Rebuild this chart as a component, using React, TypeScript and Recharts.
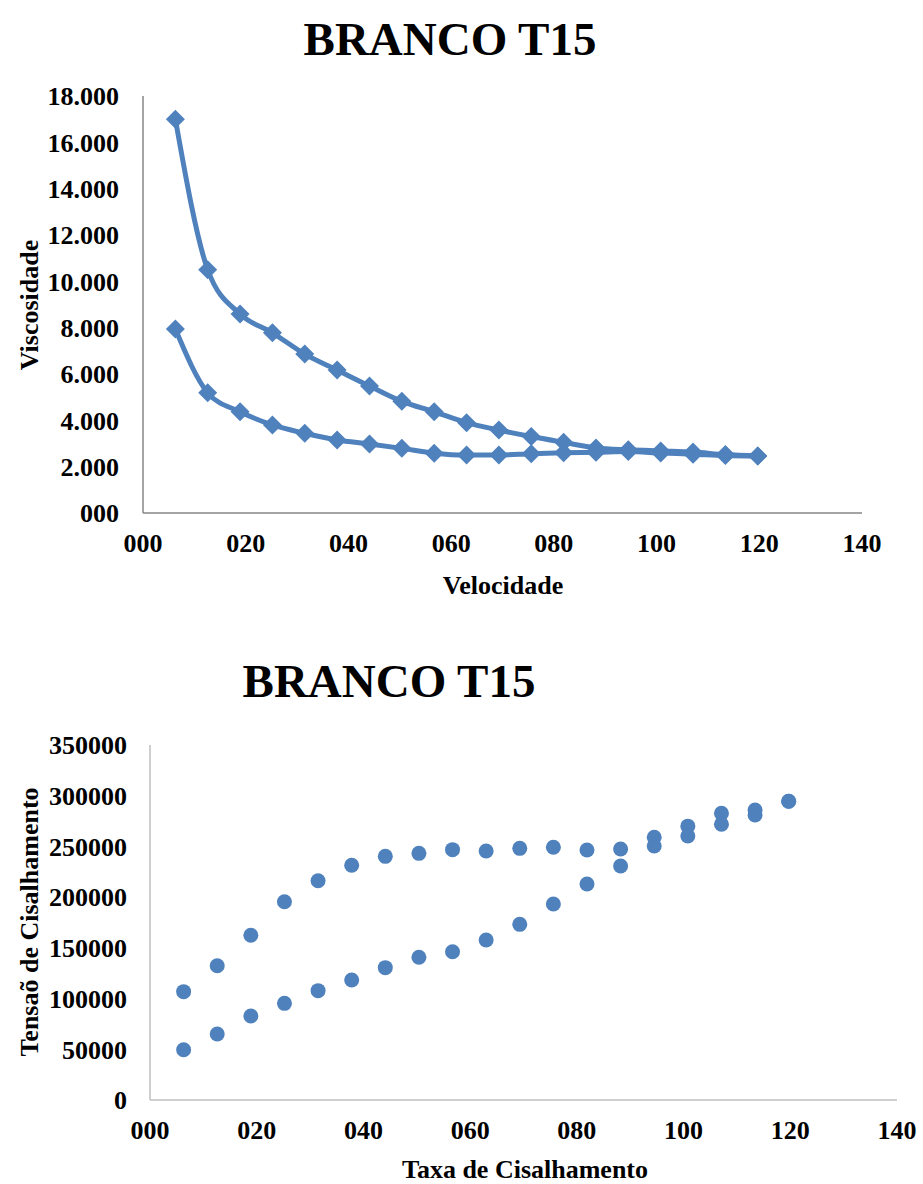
import { LineChart, Line, ScatterChart, Scatter, XAxis, YAxis, Label } from 'recharts';

// shear rate (s-1), shared by both charts
const shearRate = [6.3, 12.6, 18.9, 25.2, 31.5, 37.8, 44.1, 50.4, 56.7, 63.0, 69.3, 75.6, 81.9, 88.2, 94.5, 100.8, 107.1, 113.4, 119.7];

// viscosity, upper and lower branch of the hysteresis loop
const viscosityUpper = [17000, 10500, 8590, 7780, 6860, 6170, 5480, 4820, 4370, 3900, 3580, 3300, 3050, 2810, 2730, 2680, 2630, 2520, 2460];
const viscosityLower = [7940, 5190, 4370, 3800, 3440, 3150, 2980, 2790, 2580, 2500, 2500, 2560, 2600, 2620, 2650, 2590, 2540, 2480, 2460];

// shear stress, upper and lower branch
const stressUpper = [106800, 132400, 162400, 195500, 216200, 231400, 240200, 243200, 246800, 245500, 248100, 249200, 246500, 247500, 259000, 270000, 282600, 285900, 294500];
const stressLower = [49600, 65100, 82800, 95300, 107800, 118300, 130500, 140700, 146200, 157700, 173200, 193200, 213000, 230700, 250400, 260300, 271800, 281000, 294500];

const xTicks = [0, 20, 40, 60, 80, 100, 120, 140];
const viscTicks = [0, 2000, 4000, 6000, 8000, 10000, 12000, 14000, 16000, 18000];
const stressTicks = [0, 50000, 100000, 150000, 200000, 250000, 300000, 350000];

const BLUE = '#4F81BD';
const FONT = '"Liberation Serif", "Times New Roman", serif';

const tickStyle = { fill: '#000', fontSize: 26, fontWeight: 'bold', fontFamily: FONT };

const pad3 = (v: number) => String(Math.round(v)).padStart(3, '0');
const dotted = (v: number) => pad3(v).replace(/\B(?=(\d{3})+(?!\d))/g, '.');

const toPoints = (ys: number[]) => shearRate.map((x, i) => ({ x, y: ys[i] }));

const Diamond = (props: any) => {
  const { cx, cy, index } = props;
  if (cx == null || cy == null) return null;
  const r = 9.5;
  return (
    <path
      key={`d-${index}`}
      d={`M${cx},${cy - r}L${cx + r},${cy}L${cx},${cy + r}L${cx - r},${cy}Z`}
      fill={BLUE}
    />
  );
};

const Dot = (props: any) => <circle cx={props.cx} cy={props.cy} r={7.5} fill={BLUE} />;

const axisTitle = (text: string, x: number, y: number, rotate = false) => () => (
  <text
    x={x}
    y={y}
    textAnchor="middle"
    transform={rotate ? `rotate(-90, ${x}, ${y})` : undefined}
    fill="#000"
    fontSize={26}
    fontWeight="bold"
    fontFamily={FONT}
  >
    {text}
  </text>
);

const chartTitle = (text: string, cx: number, baseline: number) => (
  <div
    style={{
      position: 'absolute',
      left: cx - 300,
      top: baseline - 39,
      width: 600,
      textAlign: 'center',
      fontFamily: FONT,
      fontWeight: 'bold',
      fontSize: 47,
      lineHeight: '47px',
      color: '#000',
      whiteSpace: 'nowrap',
    }}
  >
    {text}
  </div>
);

export default function App() {
  return (
    <div style={{ position: 'absolute', left: 0, top: 0, width: 923, height: 1184, background: '#fff' }}>
      {chartTitle('BRANCO T15', 450, 55)}
      <div style={{ position: 'absolute', left: 0, top: 0 }}>
        <LineChart width={923} height={600} margin={{ top: 96, right: 61, bottom: 7, left: 8 }}>
          <XAxis
            type="number"
            dataKey="x"
            domain={[0, 140]}
            ticks={xTicks}
            tickFormatter={pad3}
            tick={tickStyle}
            tickLine={false}
            tickSize={0}
            tickMargin={21}
            axisLine={{ stroke: '#868686', strokeWidth: 1.5 }}
            height={80}
          >
            <Label content={axisTitle('Velocidade', 503, 594)} />
          </XAxis>
          <YAxis
            type="number"
            dataKey="y"
            domain={[0, 18000]}
            ticks={viscTicks}
            tickFormatter={dotted}
            tick={tickStyle}
            tickLine={false}
            tickSize={0}
            tickMargin={24}
            axisLine={{ stroke: '#868686', strokeWidth: 1.5 }}
            width={135}
          >
            <Label content={axisTitle('Viscosidade', 38, 305, true)} />
          </YAxis>
          <Line
            data={toPoints(viscosityUpper)}
            dataKey="y"
            type="monotone"
            stroke={BLUE}
            strokeWidth={5}
            dot={Diamond}
            activeDot={false}
            isAnimationActive={false}
          />
          <Line
            data={toPoints(viscosityLower)}
            dataKey="y"
            type="monotone"
            stroke={BLUE}
            strokeWidth={5}
            dot={Diamond}
            activeDot={false}
            isAnimationActive={false}
          />
        </LineChart>
      </div>

      {chartTitle('BRANCO T15', 389, 697)}
      <div style={{ position: 'absolute', left: 0, top: 620 }}>
        <ScatterChart width={923} height={564} margin={{ top: 125, right: 26, bottom: 4, left: 8 }}>
          <XAxis
            type="number"
            dataKey="x"
            domain={[0, 140]}
            ticks={xTicks}
            tickFormatter={pad3}
            tick={tickStyle}
            tickLine={false}
            tickSize={0}
            tickMargin={21}
            axisLine={{ stroke: '#BFBFBF', strokeWidth: 1.5 }}
            height={80}
          >
            <Label content={axisTitle('Taxa de Cisalhamento', 525, 558)} />
          </XAxis>
          <YAxis
            type="number"
            dataKey="y"
            domain={[0, 350000]}
            ticks={stressTicks}
            tick={tickStyle}
            tickLine={false}
            tickSize={0}
            tickMargin={23}
            axisLine={{ stroke: '#BFBFBF', strokeWidth: 1.5 }}
            width={142}
          >
            <Label content={axisTitle('Tensaõ de Cisalhamento', 38, 302, true)} />
          </YAxis>
          <Scatter data={toPoints(stressUpper)} fill={BLUE} shape={Dot} isAnimationActive={false} />
          <Scatter data={toPoints(stressLower)} fill={BLUE} shape={Dot} isAnimationActive={false} />
        </ScatterChart>
      </div>
    </div>
  );
}
